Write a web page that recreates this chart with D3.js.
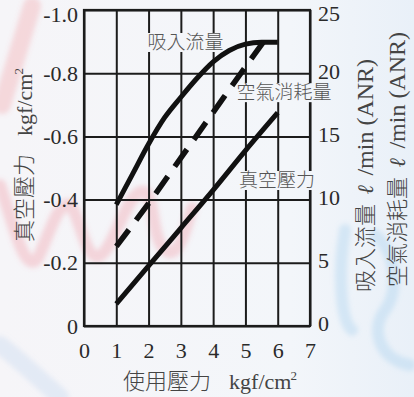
<!DOCTYPE html>
<html>
<head>
<meta charset="utf-8">
<script src="https://cdn.jsdelivr.net/npm/d3@7/dist/d3.min.js"></script>
<style>
  html, body { margin: 0; padding: 0; background: #f3f6fa; }
  svg { display: block; }
</style>
</head>
<body>
<script>
// Supply pressure (kgf/cm²) against vacuum pressure and flows
const vacuumPressure = [1, 2, 3, 4, 5, 6];
const vacuumLevel = [-0.07, -0.19, -0.31, -0.43, -0.555, -0.675];

const suctionPressure = [1, 1.5, 2, 2.5, 3, 3.5, 4, 4.5, 5, 5.5, 6];
const suctionFlow = [9.6, 12.0, 14.4, 16.5, 18.1, 19.6, 20.9, 21.8, 22.3, 22.45, 22.45];

const consumptionPressure = [1, 2, 3, 4, 5, 5.65];
const consumptionFlow = [6.3, 9.7, 13.3, 16.9, 20.5, 22.8];

const xTicks = [0, 1, 2, 3, 4, 5, 6, 7];
const vacuumTicks = [0, -0.2, -0.4, -0.6, -0.8, -1.0];
const vacuumTickLabels = ["0", "-0.2", "-0.4", "-0.6", "-0.8", "-1.0"];
const flowTicks = [0, 5, 10, 15, 20, 25];

const W = 414, H = 397;
const plotLeft = 84, plotRight = 310, plotTop = 10, plotBottom = 326;

const x = d3.scaleLinear().domain([0, 7]).range([plotLeft, plotRight]);
const yVac = d3.scaleLinear().domain([0, -1.0]).range([plotBottom, plotTop]);
const yFlow = d3.scaleLinear().domain([0, 25]).range([plotBottom, plotTop]);

const serif = '"Liberation Serif", "Times New Roman", serif';
const cjk = '"Liberation Serif", "Noto Sans CJK TC", "Noto Sans CJK JP", sans-serif';
const ink = "#1c1c1c";

const svg = d3.select("body").append("svg")
  .attr("width", W).attr("height", H)
  .attr("viewBox", `0 0 ${W} ${H}`);

const defs = svg.append("defs");
const grad = defs.append("linearGradient")
  .attr("id", "bg").attr("gradientUnits", "userSpaceOnUse")
  .attr("x1", 0).attr("y1", 0).attr("x2", W).attr("y2", 0);
grad.append("stop").attr("offset", 0).attr("stop-color", "#f6f5f8");
grad.append("stop").attr("offset", 0.7).attr("stop-color", "#f3f6fa");
grad.append("stop").attr("offset", 1).attr("stop-color", "#e9f0f8");

defs.append("filter").attr("id", "soft")
  .attr("x", "-20%").attr("y", "-20%").attr("width", "140%").attr("height", "140%")
  .append("feGaussianBlur").attr("stdDeviation", 2.5);

svg.append("rect").attr("width", W).attr("height", H).attr("fill", "url(#bg)");

// faint brush-stroke backdrop
const backdrop = svg.append("g").attr("filter", "url(#soft)").attr("fill", "none")
  .attr("stroke-linecap", "round");
backdrop.append("path")
  .attr("d", "M2,105 L32,6")
  .attr("stroke", "rgba(240,110,120,0.22)").attr("stroke-width", 18);
backdrop.append("path")
  .attr("d", "M0,185 C15,230 25,275 38,258 C48,238 58,200 70,205 C80,215 85,262 100,256 C115,246 125,198 140,192 C158,186 148,242 168,252 C180,256 188,222 192,208")
  .attr("stroke", "rgba(240,110,120,0.24)").attr("stroke-width", 12);
backdrop.append("path")
  .attr("d", "M345,230 C338,270 340,320 352,330 M375,235 C395,250 400,290 385,310 C370,330 380,360 410,365")
  .attr("stroke", "rgba(150,200,235,0.30)").attr("stroke-width", 12);
backdrop.append("path")
  .attr("d", "M0,345 C20,360 40,380 60,397")
  .attr("stroke", "rgba(170,200,235,0.25)").attr("stroke-width", 18);

// vertical grid and pressure ticks
const gx = svg.append("g")
  .attr("transform", `translate(0,${plotBottom})`)
  .call(d3.axisBottom(x).tickValues(xTicks).tickSize(-(plotBottom - plotTop)).tickPadding(16)
    .tickFormat(d3.format("d")));

// horizontal grid and vacuum ticks
const gy = svg.append("g")
  .attr("transform", `translate(${plotLeft},0)`)
  .call(d3.axisLeft(yVac).tickValues(vacuumTicks).tickSize(-(plotRight - plotLeft)).tickPadding(6)
    .tickFormat((d, i) => vacuumTickLabels[i]));

// flow ticks on the right
const gr = svg.append("g")
  .attr("transform", `translate(${plotRight},0)`)
  .call(d3.axisRight(yFlow).tickValues(flowTicks).tickSize(0).tickPadding(8));

[gx, gy, gr].forEach(g => {
  g.select(".domain").remove();
  g.selectAll(".tick line").attr("stroke", ink).attr("stroke-width", 2);
  g.selectAll(".tick text")
    .attr("fill", "#2a2a2a")
    .style("font-family", serif)
    .style("font-size", "22px");
});
gr.selectAll(".tick text").attr("dy", "0.22em");
// keep the topmost labels clear of the page edge
gy.selectAll(".tick text").filter(d => d === -1.0).attr("dy", "0.5em");
gr.selectAll(".tick text").filter(d => d === 25).attr("dy", "0.46em");

svg.append("rect")
  .attr("x", plotLeft).attr("y", plotTop)
  .attr("width", plotRight - plotLeft).attr("height", plotBottom - plotTop)
  .attr("fill", "none").attr("stroke", ink).attr("stroke-width", 2.2);

// curve names, set on a plain patch over the grid
const curveNames = [
  { text: "吸入流量", px: 1.97, y: yFlow(22.47) },
  { text: "空氣消耗量", px: 4.72, y: yFlow(18.5) },
  { text: "真空壓力", px: 4.8, y: yVac(-0.462) }
];
const nameLayer = svg.append("g");
curveNames.forEach(n => {
  const g = nameLayer.append("g");
  const t = g.append("text")
    .attr("x", x(n.px)).attr("y", n.y + 7)
    .attr("fill", "#555")
    .style("font-family", cjk)
    .style("font-size", "19px")
    .style("font-weight", 300)
    .text(n.text);
  const b = t.node().getBBox();
  g.insert("rect", "text")
    .attr("x", b.x - 1).attr("y", b.y + 1)
    .attr("width", b.width + 2).attr("height", b.height - 2)
    .attr("fill", "url(#bg)");
});

// curves
const lineVac = d3.line()
  .x((d, i) => x(vacuumPressure[i]))
  .y(d => yVac(d))
  .curve(d3.curveMonotoneX);
const lineSuction = d3.line()
  .x((d, i) => x(suctionPressure[i]))
  .y(d => yFlow(d))
  .curve(d3.curveMonotoneX);
const lineConsumption = d3.line()
  .x((d, i) => x(consumptionPressure[i]))
  .y(d => yFlow(d))
  .curve(d3.curveMonotoneX);

svg.append("path").attr("d", lineVac(vacuumLevel))
  .attr("fill", "none").attr("stroke", "#111").attr("stroke-width", 5);
svg.append("path").attr("d", lineSuction(suctionFlow))
  .attr("fill", "none").attr("stroke", "#111").attr("stroke-width", 5);
svg.append("path").attr("d", lineConsumption(consumptionFlow))
  .attr("fill", "none").attr("stroke", "#111").attr("stroke-width", 5.5)
  .attr("stroke-dasharray", "21 12");

// axis titles
const titleColor = "#444";

const xt = svg.append("text")
  .attr("x", 210).attr("y", 389)
  .attr("text-anchor", "middle")
  .attr("fill", titleColor)
  .style("font-family", cjk).style("font-size", "22px").style("font-weight", 300);
xt.append("tspan").text("使用壓力");
xt.append("tspan").attr("dx", 18).text("kgf/cm");
xt.append("tspan").attr("dx", -1).attr("dy", -9).style("font-size", "13px").text("2");

const yt = svg.append("text")
  .attr("transform", "translate(32,155) rotate(-90)")
  .attr("text-anchor", "middle")
  .attr("fill", titleColor)
  .style("font-family", cjk).style("font-size", "22px").style("font-weight", 300);
yt.append("tspan").text("真空壓力");
yt.append("tspan").attr("dx", 18).text("kgf/cm");
yt.append("tspan").attr("dx", -1).attr("dy", -9).style("font-size", "13px").text("2");

function flowTitle(cx, startY, name) {
  const t = svg.append("text")
    .attr("transform", `translate(${cx},${startY}) rotate(-90)`)
    .attr("fill", titleColor)
    .style("font-family", cjk).style("font-size", "22px").style("font-weight", 300);
  t.append("tspan").text(name);
  t.append("tspan").attr("dx", 10).style("font-style", "italic").style("font-weight", "bold").text("ℓ");
  t.append("tspan").attr("dx", 9).style("font-size", "24px").text("/min");
  t.append("tspan").attr("dx", 6).style("font-size", "24px").text("(ANR)");
}
flowTitle(373, 292, "吸入流量");
flowTitle(405, 287, "空氣消耗量");
</script>
</body>
</html>
